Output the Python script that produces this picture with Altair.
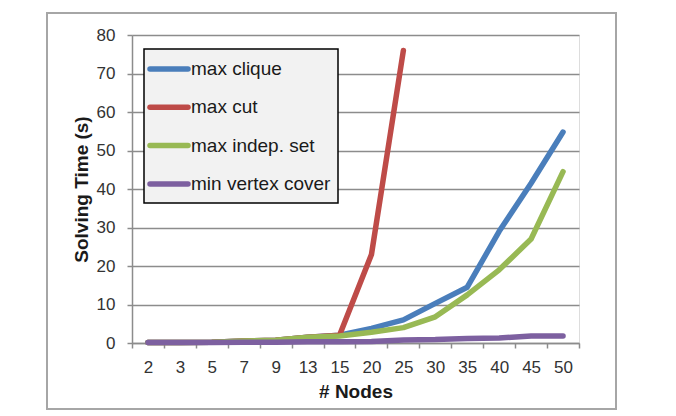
import altair as alt
import pandas as pd

nodes = ["2", "3", "5", "7", "9", "13", "15", "20", "25", "30", "35", "40", "45", "50"]
series_names = ["max clique", "max cut", "max indep. set", "min vertex cover"]
max_clique = [0.1, 0.1, 0.2, 0.5, 0.7, 1.5, 2.0, 3.8, 6.0, 10.3, 14.5, 29.0, 41.5, 54.8]
max_cut = [0.1, 0.1, 0.2, 0.5, 0.7, 1.5, 2.0, 23.0, 76.0]
max_indep = [0.1, 0.1, 0.2, 0.5, 0.7, 1.5, 1.8, 2.8, 4.0, 6.8, 12.5, 19.0, 27.0, 44.5]
min_vertex = [0.1, 0.1, 0.1, 0.2, 0.2, 0.3, 0.3, 0.4, 0.8, 0.9, 1.2, 1.3, 1.8, 1.8]
colors = ["#4a7ebb", "#be4b48", "#98b954", "#7d60a0"]

rows = []
for name, vals in zip(series_names, [max_clique, max_cut, max_indep, min_vertex]):
    for n, v in zip(nodes, vals):
        rows.append({"Nodes": n, "Time": v, "Series": name})
df = pd.DataFrame(rows)

legend_df = pd.DataFrame({"Series": series_names, "row": list(range(len(series_names)))})

W, H = 447, 308
FONT = "Liberation Sans"
color_scale = alt.Scale(domain=series_names, range=colors)

frame = alt.Chart(pd.DataFrame({"a": [0]})).mark_rect(
    fill=None, stroke="#a6a6a6", strokeWidth=2, clip=False
).encode(
    x=alt.value(-85), x2=alt.value(484), y=alt.value(-22), y2=alt.value(374)
)

lines = alt.Chart(df).mark_line(
    strokeWidth=5.5, strokeCap="round", strokeJoin="round"
).encode(
    x=alt.X("Nodes:N", sort=nodes, bandPosition=0.5,
            scale=alt.Scale(type="band", paddingInner=0, paddingOuter=0),
            axis=alt.Axis(title="# Nodes", tickBand="extent", labelAngle=0,
                          grid=False, domainColor="#8c8c8c", domainWidth=1.5,
                          tickColor="#8c8c8c", tickWidth=1.5, tickSize=5,
                          labelPadding=11, labelFontSize=17, labelColor="#333333",
                          labelFont=FONT, titleFont=FONT, titleFontSize=19,
                          titleFontWeight="bold", titleColor="#1a1a1a",
                          titlePadding=7)),
    y=alt.Y("Time:Q",
            scale=alt.Scale(domain=[0, 80], nice=False),
            axis=alt.Axis(title="Solving Time (s)", values=list(range(0, 81, 10)),
                          grid=True, gridColor="#8c8c8c", gridWidth=1.5,
                          domainColor="#8c8c8c", domainWidth=1.5,
                          tickColor="#8c8c8c", tickWidth=1.5, tickSize=5,
                          labelPadding=12, labelFontSize=17, labelColor="#333333",
                          labelFont=FONT, titleFont=FONT, titleFontSize=19,
                          titleFontWeight="bold", titleColor="#1a1a1a",
                          titlePadding=5)),
    color=alt.Color("Series:N", sort=series_names, scale=color_scale, legend=None),
)

legend_box = alt.Chart(pd.DataFrame({"a": [0]})).mark_rect(
    fill="#f2f2f2", stroke="#000000", strokeWidth=1.5
).encode(
    x=alt.value(12), x2=alt.value(206), y=alt.value(14), y2=alt.value(168)
)

legend_base = alt.Chart(legend_df).transform_calculate(
    py="34 + datum.row * 38.3"
)

legend_swatch = legend_base.mark_rule(strokeWidth=5.5, strokeCap="round").encode(
    x=alt.value(18), x2=alt.value(56),
    y=alt.Y("py:Q", scale=None),
    color=alt.Color("Series:N", scale=color_scale, legend=None),
)

legend_text = legend_base.mark_text(
    align="left", baseline="middle", font=FONT, fontSize=19, color="#1a1a1a"
).encode(
    x=alt.value(59),
    y=alt.Y("py:Q", scale=None),
    text="Series:N",
)

chart = alt.layer(frame, lines, legend_box, legend_swatch, legend_text).properties(
    width=W, height=H,
    autosize=alt.AutoSizeParams(type="none"),
    padding={"left": 132, "top": 35, "right": 97, "bottom": 73},
).configure_view(stroke=None).configure(background="white")

chart.save("out.html", embed_options={"renderer": "svg", "actions": False})
